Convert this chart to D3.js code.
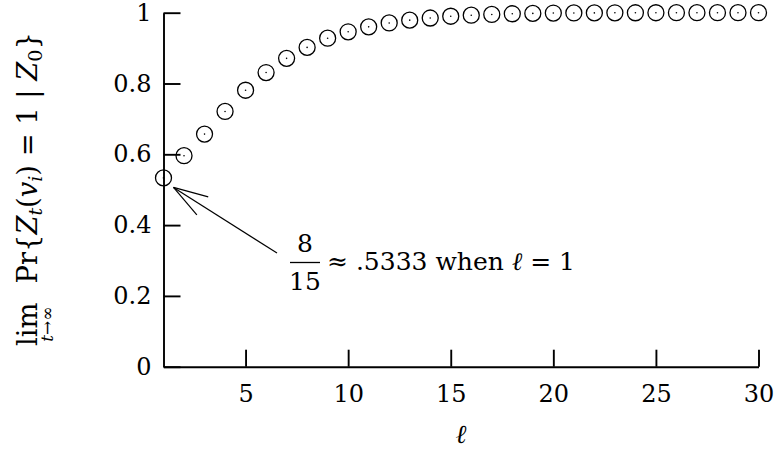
<!DOCTYPE html>
<html>
<head>
<meta charset="utf-8">
<script src="https://cdn.jsdelivr.net/npm/d3@7"></script>
<style>
  html, body { margin: 0; padding: 0; background: #fff; }
  svg { display: block; }
  text { font-family: "DejaVu Serif", serif; fill: #000; }
</style>
</head>
<body>
<svg id="chart" width="775" height="450"></svg>
<script>
// Walk length ℓ and the limiting probability of Z_t(v_i) = 1 given Z_0
const ells = d3.range(1, 31);
const probs = [
  8 / 15, 0.596, 0.657, 0.721, 0.781, 0.831, 0.871, 0.902, 0.928, 0.946,
  0.960, 0.971, 0.979, 0.985, 0.990, 0.993, 0.995, 0.997, 0.998, 0.999,
  0.9993, 0.9995, 0.9997, 0.9998, 0.9999, 1.0, 1.0, 1.0, 1.0, 1.0
];
const xTicks = [5, 10, 15, 20, 25, 30];
const yTicks = [0, 0.2, 0.4, 0.6, 0.8, 1];
const yTickLabels = ["0", "0.2", "0.4", "0.6", "0.8", "1"];

const svg = d3.select("#chart");
const plotL = 163.5, plotR = 758.5, plotT = 12.7, plotB = 366.7;
const fs = 24;

const x = d3.scaleLinear().domain([1, 30]).range([plotL, plotR]);
const y = d3.scaleLinear().domain([0, 1]).range([plotB, plotT]);

// Axes with inward ticks
const yAxis = d3.axisLeft(y)
  .tickValues(yTicks)
  .tickFormat((d, i) => yTickLabels[i])
  .tickSizeInner(-17).tickSizeOuter(0).tickPadding(12);
const xAxis = d3.axisBottom(x)
  .tickValues(xTicks)
  .tickFormat(d3.format("d"))
  .tickSizeInner(-17).tickSizeOuter(0).tickPadding(18);

const gy = svg.append("g").attr("transform", `translate(${plotL},0)`).call(yAxis);
const gx = svg.append("g").attr("transform", `translate(0,${plotB})`).call(xAxis);
[gx, gy].forEach(g => {
  g.attr("font-family", null);
  g.selectAll("path, line").attr("stroke", "#000").attr("stroke-width", 1.9);
  g.selectAll("text").attr("font-size", fs).attr("fill", "#000");
});

// Points: open circles with a centre dot
const pts = svg.append("g").selectAll("g").data(ells).join("g")
  .attr("transform", (d, i) => `translate(${x(d)},${y(probs[i])})`);
pts.append("circle").attr("r", 8).attr("fill", "none").attr("stroke", "#000").attr("stroke-width", 1.3);
pts.append("circle").attr("r", 0.8).attr("fill", "#000");

// x-axis title
svg.append("text").attr("x", (plotL + plotR) / 2).attr("y", 443)
  .attr("text-anchor", "middle").attr("font-size", fs + 2).attr("font-style", "italic").text("ℓ");

// y-axis title, rotated to read upward, sized to span the label column
const titleSpan = 314;
const yl = svg.append("g").attr("transform", "translate(37,346) rotate(-90)");
function drawYTitle(s) {
  yl.selectAll("*").remove();
  const sub = s * 0.7;
  const lim = yl.append("text").attr("x", 0).attr("y", 0).attr("font-size", s).text("lim");
  const limW = lim.node().getComputedTextLength();
  yl.append("text").attr("x", limW / 2).attr("y", s * 0.58).attr("text-anchor", "middle")
    .attr("font-size", s * 0.62).attr("font-style", "italic").text("t→∞");
  const gap = s * 0.7;
  const main = yl.append("text").attr("x", limW + gap).attr("y", 0).attr("font-size", s);
  main.append("tspan").text("Pr{");
  main.append("tspan").attr("font-style", "italic").text("Z");
  main.append("tspan").attr("font-size", sub).attr("font-style", "italic").attr("dy", 5).text("t");
  main.append("tspan").attr("dy", -5).text("(");
  main.append("tspan").attr("font-style", "italic").text("v");
  main.append("tspan").attr("font-size", sub).attr("font-style", "italic").attr("dy", 5).text("i");
  main.append("tspan").attr("dy", -5).text(") = 1 | ");
  main.append("tspan").attr("font-style", "italic").text("Z");
  main.append("tspan").attr("font-size", sub).attr("dy", 5).text("0");
  main.append("tspan").attr("dy", -5).text("}");
  return limW + gap + main.node().getComputedTextLength();
}
let ys = 26;
const len = drawYTitle(ys);
drawYTitle(ys * titleSpan / len);

// Annotation for ℓ = 1
const p0x = x(ells[0]), p0y = y(probs[0]);
const tip = [p0x + 10, p0y + 9.5];
const tail = [277, 253];
const ann = svg.append("g").attr("stroke", "#000").attr("stroke-width", 1.2).attr("fill", "none");
ann.append("line").attr("x1", tail[0]).attr("y1", tail[1]).attr("x2", tip[0]).attr("y2", tip[1]);
const ang = Math.atan2(tail[1] - tip[1], tail[0] - tip[0]);
[-0.3, 0.3].forEach(da => {
  ann.append("line").attr("x1", tip[0]).attr("y1", tip[1])
    .attr("x2", tip[0] + 36 * Math.cos(ang + da)).attr("y2", tip[1] + 36 * Math.sin(ang + da));
});

const afs = 25;
svg.append("text").attr("x", 305).attr("y", 252).attr("text-anchor", "middle").attr("font-size", afs).text("8");
svg.append("line").attr("x1", 290).attr("x2", 320).attr("y1", 262.5).attr("y2", 262.5)
  .attr("stroke", "#000").attr("stroke-width", 1.3);
svg.append("text").attr("x", 305).attr("y", 290).attr("text-anchor", "middle").attr("font-size", afs).text("15");
const lab = svg.append("text").attr("x", 327).attr("y", 270).attr("font-size", afs);
lab.append("tspan").text("≈ ." + d3.format(".4f")(probs[0]).slice(2) + " when ");
lab.append("tspan").attr("font-style", "italic").text("ℓ");
lab.append("tspan").text(" = " + ells[0]);
</script>
</body>
</html>
